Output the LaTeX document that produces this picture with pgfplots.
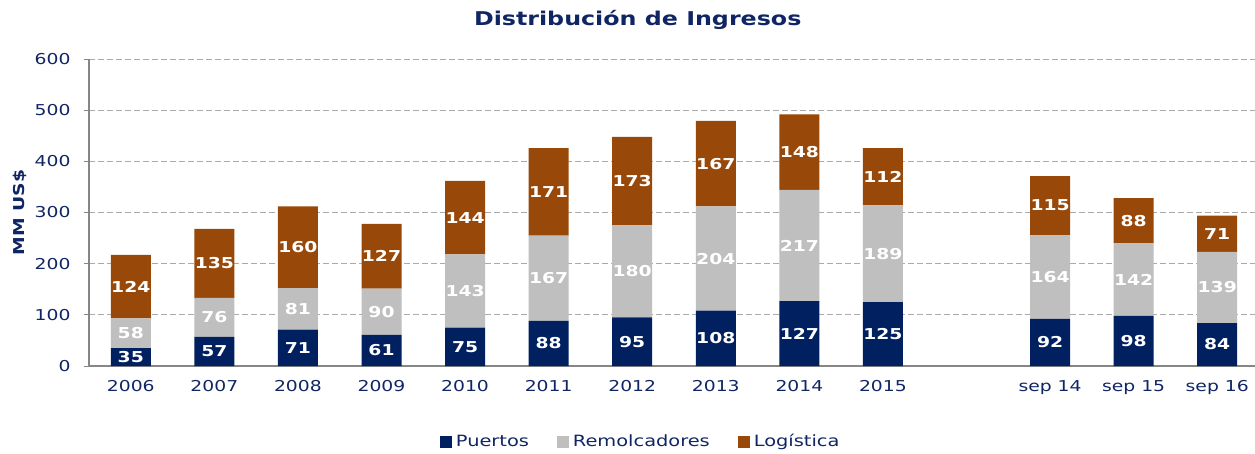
\documentclass[border=0pt]{standalone}
\usepackage{pgfplots}
\pgfplotsset{compat=1.18}
\usepackage{pgfplotstable}
\usepackage{fontspec}
\setmainfont[FakeStretch=1.25]{DejaVu Sans}
\definecolor{navy}{RGB}{0,32,96}
\definecolor{lgray}{RGB}{191,191,191}
\definecolor{mybrown}{RGB}{152,72,8}
\definecolor{txt}{RGB}{16,38,100}
\definecolor{axgray}{RGB}{134,134,134}
\definecolor{gridgray}{RGB}{170,170,170}

\pgfplotstableread{
x p r l
0 35 58 124
1 57 76 135
2 71 81 160
3 61 90 127
4 75 143 144
5 88 167 171
6 95 180 173
7 108 204 167
8 127 217 148
9 125 189 112
11 92 164 115
12 98 142 88
13 84 139 71
}\data

\begin{document}
\begin{tikzpicture}
\pgfplotsset{common/.style={width=1170pt,height=307pt,scale only axis,xmin=-0.5,xmax=13.5,ymin=0,ymax=600}}
\begin{axis}[common,
  ybar stacked, bar width=40pt,
  axis x line*=bottom, axis y line*=left,
  axis line style={-, draw=axgray, line width=1.6pt},
  ytick={0,100,...,600},
  ymajorgrids, grid style={dashed, gridgray, line width=0.8pt, dash pattern=on 6pt off 3pt},
  ytick style={draw=axgray, line width=1pt}, tick align=outside, major tick length=5pt,
  xtick={0,1,2,3,4,5,6,7,8,9,11,12,13},
  xticklabels={2006,2007,2008,2009,2010,2011,2012,2013,2014,2015,sep 14,sep 15,sep 16},
  xtick style={draw=none},
  extra x ticks={-0.5,0.5,...,13.5},
  extra x tick labels={},
  extra x tick style={grid=none, tick style={draw=axgray, line width=1pt}, major tick length=6pt},
  /pgf/number format/assume math mode=true,
  ticklabel style={font=\fontsize{15}{15}\selectfont, text=txt},
  yticklabel style={xshift=-10pt},
  xticklabel style={yshift=-6pt},
  ylabel={MM US\$},
  ylabel style={font=\bfseries\fontsize{15}{15}\selectfont, text=txt, at={(rel axis cs:0,0.5)}, anchor=center, yshift=69pt},
  title={Distribución de Ingresos},
  title style={font=\bfseries\fontsize{19}{19}\selectfont, text=txt, at={(rel axis cs:0.469,1)}, anchor=base, yshift=28pt},
  legend style={at={(rel axis cs:0.4715,-0.246)}, anchor=center, draw=none, fill=none, legend columns=3,
    font=\fontsize{15.5}{15.5}\selectfont, text=txt,
    /tikz/every even column/.append style={column sep=26pt},
    /tikz/every odd column/.append style={column sep=2pt}},
  legend image code/.code={\fill[#1] (0pt,-6pt) rectangle (12pt,6pt);},
]
\addplot[fill=navy, draw=none] table[x=x,y=p]{\data};
\addplot[fill=lgray, draw=none] table[x=x,y=r]{\data};
\addplot[fill=mybrown, draw=none] table[x=x,y=l]{\data};
\legend{Puertos,Remolcadores,Logística}
\end{axis}
\begin{axis}[common, hide axis, nodes near coords, point meta=explicit symbolic,
  nodes near coords style={font=\bfseries\fontsize{15}{15}\selectfont, text=white, anchor=center}]
\addplot[draw=none, mark=none] table[x=x, y expr=\thisrow{p}/2, meta=p]{\data};
\addplot[draw=none, mark=none] table[x=x, y expr=\thisrow{p}+\thisrow{r}/2, meta=r]{\data};
\addplot[draw=none, mark=none] table[x=x, y expr=\thisrow{p}+\thisrow{r}+\thisrow{l}/2, meta=l]{\data};
\end{axis}
\pgfresetboundingbox
\path[use as bounding box] (-89pt,-87pt) rectangle (1166pt,366pt);
\end{tikzpicture}
\end{document}
